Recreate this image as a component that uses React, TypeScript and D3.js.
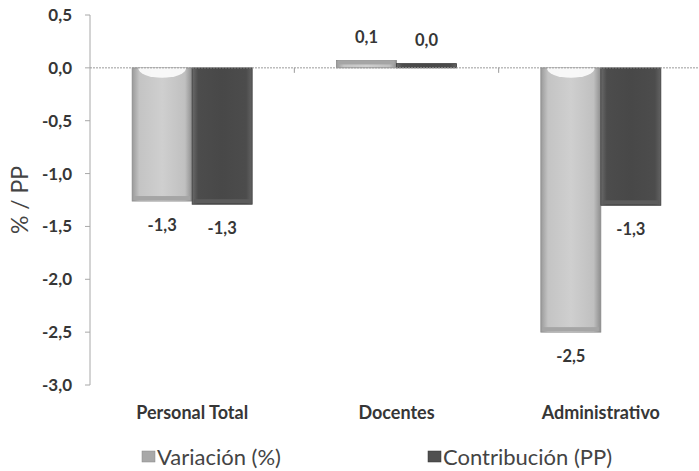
import React from "react";
import * as d3 from "d3";

const categories = ["Personal Total", "Docentes", "Administrativo"];
const seriesNames = ["Variación (%)", "Contribución (PP)"];
const variacion = [-1.26, 0.07, -2.5];
const contribucion = [-1.29, 0.04, -1.3];
const yTicks = [0.5, 0, -0.5, -1, -1.5, -2, -2.5, -3];

const W = 699, H = 471;
const m = { left: 90, right: 703, top: 15, bottom: 385 };

export default function App() {
  const y = d3.scaleLinear().domain([-3, 0.5]).range([m.bottom, m.top]);
  const x0 = d3.scaleBand<string>().domain(categories).range([m.left, m.right]).paddingInner(0).paddingOuter(0);
  const x1 = d3.scaleBand<number>().domain([0, 1]).range([0, 120]);
  const fmt = (v: number) => v.toFixed(1).replace(".", ",").replace("-0,0", "0,0");
  const series = [variacion, contribucion];
  const fills = ["url(#gLight)", "url(#gDark)"];
  const strokes = ["#8a8a8a", "#3a3a3a"];
  const font = "Lato, 'Open Sans', sans-serif";
  return (
    <svg width={W} height={H} style={{ position: "absolute", left: 0, top: 0, background: "#fff" }} fontFamily={font}>
      <defs>
        <linearGradient id="gLight" x1="0" x2="1" y1="0" y2="0">
          <stop offset="0" stopColor="#9a9a9a" />
          <stop offset="0.12" stopColor="#c4c4c4" />
          <stop offset="0.5" stopColor="#cfcfcf" />
          <stop offset="0.88" stopColor="#c0c0c0" />
          <stop offset="1" stopColor="#8e8e8e" />
        </linearGradient>
        <linearGradient id="gDark" x1="0" x2="1" y1="0" y2="0">
          <stop offset="0" stopColor="#6a6a6a" />
          <stop offset="0.1" stopColor="#4c4c4c" />
          <stop offset="0.5" stopColor="#484848" />
          <stop offset="0.9" stopColor="#4c4c4c" />
          <stop offset="1" stopColor="#626262" />
        </linearGradient>
      </defs>
      {/* y axis */}
      <line x1={m.left} x2={m.left} y1={m.top} y2={m.bottom} stroke="#a8a8a8" strokeWidth={1} />
      {yTicks.map((t) => (
        <g key={t}>
          <line x1={m.left - 5} x2={m.left} y1={y(t)} y2={y(t)} stroke="#a8a8a8" />
          <text x={m.left - 18} y={y(t)} dy="0.35em" textAnchor="end" fontSize={17} fontWeight="bold" fill="#363636">
            {fmt(t)}
          </text>
        </g>
      ))}
      <text transform={`translate(28,${(m.top + m.bottom) / 2}) rotate(-90)`} textAnchor="middle" fontSize={23} fill="#444">
        % / PP
      </text>
      {/* bars */}
      {categories.map((c, ci) => {
        const cx = (x0(c) as number) + x0.bandwidth() / 2 - 60;
        return (
          <g key={c}>
            {series.map((s, si) => {
              const v = s[ci];
              const bx = cx + (x1(si) as number);
              const bw = x1.bandwidth();
              const top = Math.min(y(v), y(0));
              const h = Math.abs(y(v) - y(0));
              const lx = bx + bw / 2;
              const ly = v < 0 ? y(v) + 24 : y(v) - 23;
              const clipId = `clip-${ci}-${si}`;
              return (
                <g key={si}>
                  <clipPath id={clipId}>
                    <rect x={bx} y={top} width={bw} height={h} />
                  </clipPath>
                  <rect x={bx} y={top} width={bw} height={h} fill={fills[si]} stroke={strokes[si]} strokeWidth={0.8} />
                  {si === 0 && v < 0 && h > 20 && (
                    <ellipse cx={lx} cy={top} rx={bw * 0.4} ry={10} fill="#fafafa" opacity={0.95} clipPath={`url(#${clipId})`} />
                  )}
                  {h > 6 && (
                    <rect x={bx + 2} y={v < 0 ? top + h - 5 : top} width={bw - 4} height={4} fill={si === 0 ? "#a5a5a5" : "#5c5c5c"} />
                  )}
                  <text x={lx} y={ly} dy="0.35em" textAnchor="middle" fontSize={16.5} fontWeight="bold" fill="#363636">
                    {fmt(v)}
                  </text>
                </g>
              );
            })}
          </g>
        );
      })}
      {/* zero line */}
      <line x1={m.left} x2={W} y1={y(0)} y2={y(0)} stroke="#9a9a9a" strokeWidth={1} strokeDasharray="2,1" />
      {categories.slice(1).map((c) => (
        <line key={c} x1={x0(c) as number} x2={x0(c) as number} y1={y(0)} y2={y(0) + 5} stroke="#9a9a9a" />
      ))}
      {/* category labels */}
      {categories.map((c) => (
        <text key={c} x={(x0(c) as number) + x0.bandwidth() / 2} y={419} textAnchor="middle" fontSize={18} fontWeight="bold" fill="#363636">
          {c}
        </text>
      ))}
      {/* legend */}
      {seriesNames.map((n, i) => {
        const lx = i === 0 ? 142 : 428;
        return (
          <g key={n}>
            <rect x={lx} y={451} width={13} height={11} fill={i === 0 ? "#a8a8a8" : "#505050"} stroke={i === 0 ? "#888" : "#333"} strokeWidth={0.5} />
            <text x={lx + 15} y={457} dy="0.35em" fontSize={22} fill="#444">
              {n}
            </text>
          </g>
        );
      })}
    </svg>
  );
}
